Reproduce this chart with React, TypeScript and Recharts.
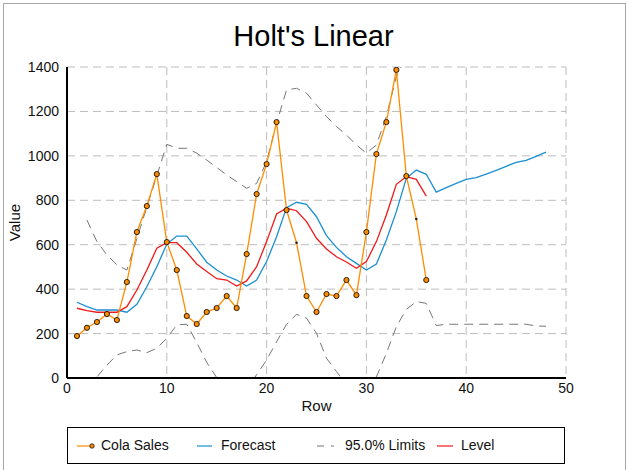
import React from 'react';
import { LineChart, Line, XAxis, YAxis, CartesianGrid, Legend } from 'recharts';

const rowNumbers = Array.from({ length: 48 }, (_, i) => i + 1);

const colaSales = [
  189, 226, 252, 288, 261, 432, 657, 774, 918, 612, 486, 279, 243, 297, 315, 369, 315, 558,
  828, 963, 1152, 756, 609, 369, 297, 378, 369, 441, 373, 657, 1008, 1152, 1387, 909, 716, 441,
];

const forecast = [
  341, 321, 306, 306, 306, 296, 332, 411, 501, 603, 639, 639, 581, 521, 486, 459, 441, 414,
  441, 524, 636, 767, 791, 782, 726, 641, 588, 546, 516, 486, 513, 621, 749, 899, 936, 917,
  837, 857, 876, 894, 902, 918, 935, 953, 971, 980, 998, 1017,
];

const level = [
  314, 303, 296, 296, 296, 321, 396, 486, 584, 609, 609, 566, 513, 479, 447, 441, 414, 437,
  501, 614, 738, 764, 753, 704, 629, 581, 546, 522, 494, 524, 614, 734, 872, 906, 894, 819,
];

const upperLimit = [
  null, 711, 614, 554, 509, 486, 627, 769, 911, 1052, 1034, 1034, 1012, 981, 948, 914, 884, 854,
  876, 974, 1147, 1297, 1304, 1282, 1229, 1177, 1132, 1094, 1049, 1012, 1049, 1177, 1357, 1447,
];

const lowerLimit = [
  null, -120, 5, 58, 104, 119, 126, 114, 134, 179, 239, 242, 160, 70, 2, -60, -90, -50,
  15, 81, 163, 242, 287, 269, 201, 89, 29, -30, -70, -60, 5, 111, 231, 309, 344, 336,
  236, 242, 242, 242, 242, 242, 242, 242, 242, 242, 234, 233,
];

const xTicks = [0, 10, 20, 30, 40, 50];
const yTicks = [0, 200, 400, 600, 800, 1000, 1200, 1400];
const smallMarkerRows = [23, 35];

const FONT = '"Liberation Sans", Arial, sans-serif';
const ORANGE = '#ff8c00';
const BLUE = '#1a8fd2';
const RED = '#f01a1a';
const GRAY = '#767676';

const data = rowNumbers.map((row, i) => ({
  row,
  cola: colaSales[i] ?? null,
  forecast: forecast[i] ?? null,
  level: level[i] ?? null,
  upper: upperLimit[i] ?? null,
  lower: lowerLimit[i] ?? null,
}));

const ColaDot = (props: any) => {
  const { cx, cy, payload } = props;
  if (cx == null || cy == null || payload.cola == null) return null;
  if (smallMarkerRows.includes(payload.row)) {
    return <circle key={`d${payload.row}`} cx={cx} cy={cy} r={1.3} fill="#222" />;
  }
  return (
    <circle key={`d${payload.row}`} cx={cx} cy={cy} r={2.6} fill={ORANGE} stroke="#111" strokeWidth={0.9} />
  );
};

const LegendBox = () => {
  const item = (left: number, icon: React.ReactNode, text: string, textLeft: number) => (
    <>
      <svg style={{ position: 'absolute', left, top: 13 }} width={20} height={10}>
        {icon}
      </svg>
      <span style={{ position: 'absolute', left: textLeft, top: 9, fontSize: 14, lineHeight: '16px' }}>
        {text}
      </span>
    </>
  );
  return (
    <div
      style={{
        position: 'relative',
        width: 496,
        height: 35,
        border: '1px solid #000',
        fontFamily: FONT,
        color: '#111',
        background: '#fff',
      }}
    >
      {item(
        9,
        <>
          <line x1={0} y1={5} x2={15} y2={5} stroke={ORANGE} strokeWidth={1.2} />
          <circle cx={15} cy={5} r={2.2} fill={ORANGE} stroke="#111" strokeWidth={0.8} />
        </>,
        'Cola Sales',
        33
      )}
      {item(129, <line x1={0} y1={5} x2={15} y2={5} stroke={BLUE} strokeWidth={1.2} />, 'Forecast', 153)}
      {item(
        249,
        <line x1={0} y1={5} x2={17} y2={5} stroke={GRAY} strokeWidth={1} strokeDasharray="7 7" />,
        '95.0% Limits',
        277
      )}
      {item(369, <line x1={0} y1={5} x2={16} y2={5} stroke={RED} strokeWidth={1.2} />, 'Level', 393)}
    </div>
  );
};

export default function App() {
  return (
    <div
      style={{
        position: 'absolute',
        left: 0,
        top: 0,
        width: 627,
        height: 470,
        background: '#fff',
        overflow: 'hidden',
        fontFamily: FONT,
      }}
    >
      <div
        style={{
          position: 'absolute',
          left: 3,
          top: 3,
          width: 621,
          height: 480,
          border: '1px solid #a8a8a8',
        }}
      />
      <div
        style={{
          position: 'absolute',
          left: 0,
          width: 627,
          top: 20,
          textAlign: 'center',
          fontSize: 29,
          lineHeight: '32px',
          color: '#000',
        }}
      >
        Holt's Linear
      </div>
      <div style={{ position: 'absolute', left: 0, top: 0 }}>
        <LineChart width={627} height={470} data={data} margin={{ top: 67, right: 61, left: 17, bottom: 72 }}>
          <CartesianGrid stroke="#bdbdbd" strokeDasharray="8 5" />
          <XAxis
            dataKey="row"
            type="number"
            domain={[0, 50]}
            ticks={xTicks}
            allowDataOverflow
            height={20}
            tickLine={false}
            tickSize={3}
            axisLine={{ stroke: '#000', strokeWidth: 2 }}
            tick={{ fill: '#111', fontSize: 14, fontFamily: FONT }}
            label={{ value: 'Row', position: 'bottom', offset: 2, fill: '#111', fontSize: 15, fontFamily: FONT }}
          />
          <XAxis
            xAxisId="top"
            orientation="top"
            type="number"
            domain={[0, 50]}
            ticks={xTicks}
            height={0}
            tick={false}
            tickLine={false}
            axisLine={{ stroke: '#000', strokeWidth: 2 }}
          />
          <YAxis
            type="number"
            domain={[0, 1400]}
            ticks={yTicks}
            allowDataOverflow
            width={50}
            tickLine={false}
            tickSize={6}
            axisLine={{ stroke: '#000', strokeWidth: 2 }}
            tick={{ fill: '#111', fontSize: 14, fontFamily: FONT }}
            label={{
              value: 'Value',
              angle: -90,
              position: 'insideLeft',
              offset: -2,
              fill: '#111',
              fontSize: 15,
              fontFamily: FONT,
              style: { textAnchor: 'middle' },
            }}
          />
          <YAxis
            yAxisId="leftIn"
            orientation="left"
            mirror
            type="number"
            domain={[0, 1400]}
            ticks={yTicks}
            width={0}
            tick={false}
            tickSize={4}
            axisLine={false}
            tickLine={{ stroke: '#000' }}
          />
          <YAxis
            yAxisId="right"
            orientation="right"
            mirror
            type="number"
            domain={[0, 1400]}
            ticks={yTicks}
            width={0}
            tick={false}
            tickSize={5}
            axisLine={{ stroke: '#000', strokeWidth: 2 }}
            tickLine={{ stroke: '#000' }}
          />
          <Line
            dataKey="upper"
            type="linear"
            stroke={GRAY}
            strokeWidth={1}
            strokeDasharray="9 6"
            dot={false}
            isAnimationActive={false}
          />
          <Line
            dataKey="lower"
            type="linear"
            stroke={GRAY}
            strokeWidth={1}
            strokeDasharray="9 6"
            dot={false}
            isAnimationActive={false}
          />
          <Line dataKey="forecast" type="linear" stroke={BLUE} strokeWidth={1.3} dot={false} isAnimationActive={false} />
          <Line dataKey="level" type="linear" stroke={RED} strokeWidth={1.3} dot={false} isAnimationActive={false} />
          <Line
            dataKey="cola"
            type="linear"
            stroke={ORANGE}
            strokeWidth={1.3}
            dot={ColaDot}
            isAnimationActive={false}
          />
          <Legend
            layout="horizontal"
            verticalAlign="middle"
            align="center"
            wrapperStyle={{ position: 'absolute', left: 67, top: 427, width: 498, height: 37 }}
            content={() => <LegendBox />}
          />
        </LineChart>
      </div>
    </div>
  );
}
